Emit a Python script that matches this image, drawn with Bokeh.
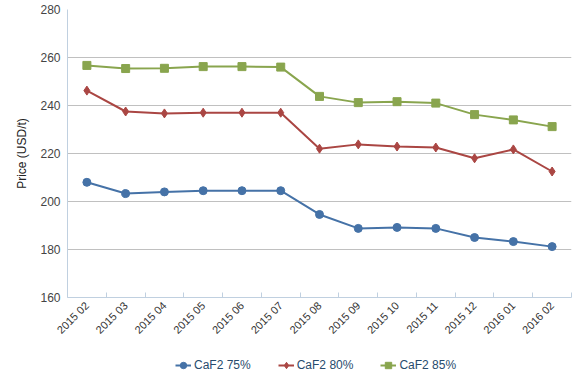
import math
from bokeh.plotting import figure
from bokeh.layouts import column
from bokeh.models import FixedTicker, Legend, LegendItem, Range1d
from bokeh.embed import file_html
from bokeh.resources import INLINE

months = ["2015 02", "2015 03", "2015 04", "2015 05", "2015 06", "2015 07", "2015 08",
          "2015 09", "2015 10", "2015 11", "2015 12", "2016 01", "2016 02"]
caf2_75 = [208.0, 203.3, 204.0, 204.5, 204.5, 204.5, 194.6, 188.8, 189.2, 188.8, 185.0, 183.3, 181.2]
caf2_80 = [246.2, 237.5, 236.7, 237.0, 237.0, 237.0, 222.0, 223.8, 222.9, 222.5, 218.0, 221.7, 212.5]
caf2_85 = [256.7, 255.4, 255.5, 256.2, 256.2, 256.0, 243.8, 241.2, 241.6, 241.0, 236.2, 234.0, 231.2]
y_ticks = [160, 180, 200, 220, 240, 260, 280]
series_names = ["CaF2 75%", "CaF2 80%", "CaF2 85%"]

FONT = "Liberation Sans"
x = list(range(len(months)))

p = figure(width=580, height=350, x_range=Range1d(-0.5, len(months) - 0.5),
           y_range=Range1d(y_ticks[0], y_ticks[-1]),
           output_backend="svg", toolbar_location=None,
           min_border_left=67, min_border_right=9, min_border_top=9, min_border_bottom=53)
p.outline_line_color = None
p.background_fill_color = "white"
p.border_fill_color = "white"

# axes
p.xaxis.ticker = FixedTicker(ticks=x, minor_ticks=[i - 0.5 for i in range(len(months) + 1)])
p.xaxis.major_label_overrides = {i: m for i, m in enumerate(months)}
p.xaxis.major_label_orientation = math.pi / 4
p.xaxis.major_tick_in = 0
p.xaxis.major_tick_out = 0
p.xaxis.minor_tick_in = 5
p.xaxis.minor_tick_out = 0
p.xaxis.minor_tick_line_color = "#C0D0E0"
p.xaxis.axis_line_color = "#C0D0E0"
p.xaxis.major_label_text_font = FONT
p.xaxis.major_label_text_font_size = "11px"
p.xaxis.major_label_text_color = "#333333"
p.xaxis.major_label_standoff = 6

p.yaxis.ticker = FixedTicker(ticks=y_ticks)
p.yaxis.major_tick_in = 0
p.yaxis.major_tick_out = 0
p.yaxis.minor_tick_in = 0
p.yaxis.minor_tick_out = 0
p.yaxis.axis_line_color = "#C0D0E0"
p.yaxis.major_label_text_font = FONT
p.yaxis.major_label_text_font_size = "12px"
p.yaxis.major_label_text_color = "#444444"
p.yaxis.major_label_standoff = 7
p.yaxis.axis_label = "Price (USD/t)"
p.yaxis.axis_label_text_font = FONT
p.yaxis.axis_label_text_font_size = "12px"
p.yaxis.axis_label_text_font_style = "normal"
p.yaxis.axis_label_text_color = "#222222"
p.yaxis.axis_label_standoff = 8

p.xgrid.grid_line_color = None
p.ygrid.ticker = FixedTicker(ticks=y_ticks[:-1])
p.ygrid.grid_line_color = "#C0C0C0"

colors = ["#4572A7", "#AA4643", "#89A54E"]
markers = ["circle", "diamond", "square"]
sizes = [8, 9, 8]

# legend in a separate strip below the chart (its frame is aligned with the chart's frame)
lf = figure(width=580, height=36, x_axis_type=None, y_axis_type=None,
            x_range=Range1d(-0.5, len(months) - 0.5), y_range=Range1d(0, 1),
            output_backend="svg", toolbar_location=None,
            min_border_left=67, min_border_right=9, min_border_top=0, min_border_bottom=0)
lf.outline_line_color = None
lf.xgrid.grid_line_color = None
lf.ygrid.grid_line_color = None
lf.background_fill_color = "white"
lf.border_fill_color = "white"

items = []
for vals, name, c, m, s in zip([caf2_75, caf2_80, caf2_85], series_names, colors, markers, sizes):
    p.line(x, vals, line_color=c, line_width=2)
    p.scatter(x, vals, marker=m, size=s, fill_color=c, line_color=c)
    # same series in the legend strip; values lie outside its y range so only the legend glyph shows
    ln = lf.line(x, vals, line_color=c, line_width=2)
    sc = lf.scatter(x, vals, marker=m, size=s, fill_color=c, line_color=c)
    items.append(LegendItem(label=name, renderers=[ln, sc]))

legend = Legend(items=items, orientation="horizontal", location=(108, 13),
                label_text_font=FONT, label_text_font_size="12px",
                label_text_color="#274b6d", glyph_width=16, glyph_height=16,
                label_standoff=3, spacing=27, padding=0, margin=0,
                border_line_color=None, background_fill_alpha=0)
lf.add_layout(legend, "center")

open("out.html", "w").write(file_html(column(p, lf, spacing=0), INLINE))
